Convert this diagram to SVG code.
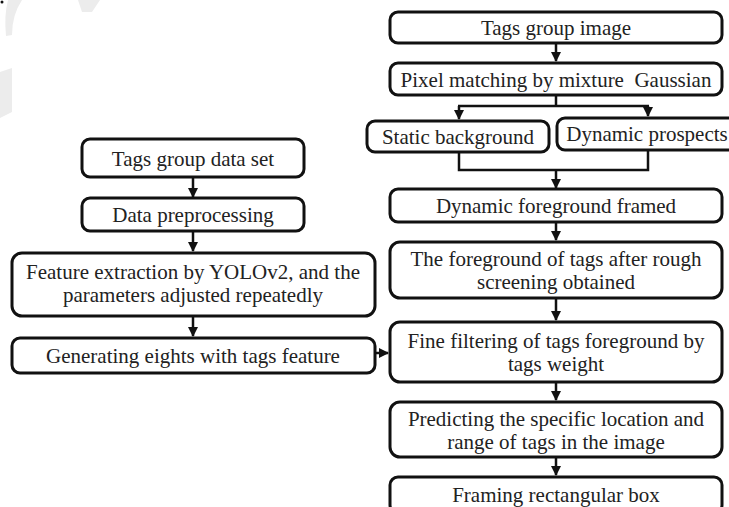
<svg xmlns="http://www.w3.org/2000/svg" width="729" height="507" viewBox="0 0 729 507">
<style>
.box{fill:#fff;stroke:#111;stroke-width:3}
.t{font-size:21px;fill:#222;text-anchor:middle}
.c{fill:none;stroke:#111;stroke-width:2.5}
.wm{fill:#ececec}
</style>
<defs>
<marker id="ah" viewBox="0 0 10 10" refX="9" refY="5" markerWidth="4" markerHeight="4" orient="auto" markerUnits="strokeWidth">
<path d="M0,0 L10,5 L0,10 z" fill="#111"/>
</marker>
</defs>
<rect width="729" height="507" fill="#fff"/>
<g id="watermark">
<path class="wm" d="M8,0 L22,0 Q12,15 12,35 L6,36 Q4,15 8,0 z"/>
<path class="wm" d="M0,72 L12,68 L12,112 L0,118 z"/>
<path class="wm" d="M78,0 L100,0 L92,12 L82,12 z"/>
<circle cx="2" cy="2" r="1.5" fill="#111"/>
</g>
<g id="connectors">
<line class="c" x1="193" y1="177" x2="193" y2="197" marker-end="url(#ah)"/>
<line class="c" x1="193" y1="231" x2="193" y2="251" marker-end="url(#ah)"/>
<line class="c" x1="193" y1="316" x2="193" y2="336" marker-end="url(#ah)"/>
<line class="c" x1="375" y1="353" x2="388" y2="353" marker-end="url(#ah)"/>
<line class="c" x1="556" y1="43" x2="556" y2="61" marker-end="url(#ah)"/>
<polyline class="c" points="556,95 556,106"/>
<line class="c" x1="458" y1="106" x2="649" y2="106"/>
<line class="c" x1="459" y1="106" x2="459" y2="119" marker-end="url(#ah)"/>
<line class="c" x1="648" y1="106" x2="648" y2="116" marker-end="url(#ah)"/>
<polyline class="c" points="459,152 459,170 648,170 648,150"/>
<line class="c" x1="556" y1="170" x2="556" y2="188" marker-end="url(#ah)"/>
<line class="c" x1="556" y1="222" x2="556" y2="240" marker-end="url(#ah)"/>
<line class="c" x1="556" y1="298" x2="556" y2="320" marker-end="url(#ah)"/>
<line class="c" x1="556" y1="382" x2="556" y2="400" marker-end="url(#ah)"/>
<line class="c" x1="556" y1="457" x2="556" y2="475" marker-end="url(#ah)"/>
</g>
<g font-family="Liberation Serif, Times New Roman, serif">
<g id="n1"><rect class="box" x="82" y="139" width="222" height="38" rx="8"/><text class="t" x="193" y="166">Tags group data set</text></g>
<g id="n2"><rect class="box" x="82" y="198" width="222" height="33" rx="8"/><text class="t" x="193" y="222">Data preprocessing</text></g>
<g id="n3"><rect class="box" x="12" y="253" width="363" height="63" rx="10"/><text class="t" x="193" y="279">Feature extraction by YOLOv2, and the</text><text class="t" x="193" y="302">parameters adjusted repeatedly</text></g>
<g id="n4"><rect class="box" x="12" y="338" width="363" height="35" rx="8"/><text class="t" x="193" y="363">Generating eights with tags feature</text></g>
<g id="r1"><rect class="box" x="390" y="12" width="332" height="31" rx="8"/><text class="t" x="556" y="35">Tags group image</text></g>
<g id="r2"><rect class="box" x="390" y="63" width="332" height="32" rx="8"/><text class="t" x="556" y="87">Pixel matching by mixture&#160; Gaussian</text></g>
<g id="r3"><rect class="box" x="367" y="121" width="182" height="31" rx="8"/><text class="t" x="458" y="144">Static background</text></g>
<g id="r4"><rect class="box" x="557" y="118" width="180" height="32" rx="8"/><text class="t" x="647" y="141">Dynamic prospects</text></g>
<g id="r5"><rect class="box" x="390" y="189" width="332" height="33" rx="8"/><text class="t" x="556" y="213">Dynamic foreground framed</text></g>
<g id="r6"><rect class="box" x="390" y="242" width="332" height="56" rx="10"/><text class="t" x="556" y="266">The foreground of tags after rough</text><text class="t" x="556" y="289">screening obtained</text></g>
<g id="r7"><rect class="box" x="390" y="322" width="332" height="60" rx="10"/><text class="t" x="556" y="348">Fine filtering of tags foreground by</text><text class="t" x="556" y="371">tags weight</text></g>
<g id="r8"><rect class="box" x="390" y="402" width="332" height="55" rx="10"/><text class="t" x="556" y="426">Predicting the specific location and</text><text class="t" x="556" y="449">range of tags in the image</text></g>
<g id="r9"><rect class="box" x="390" y="477" width="332" height="36" rx="8"/><text class="t" x="556" y="502">Framing rectangular box</text></g>
</g>
</svg>
